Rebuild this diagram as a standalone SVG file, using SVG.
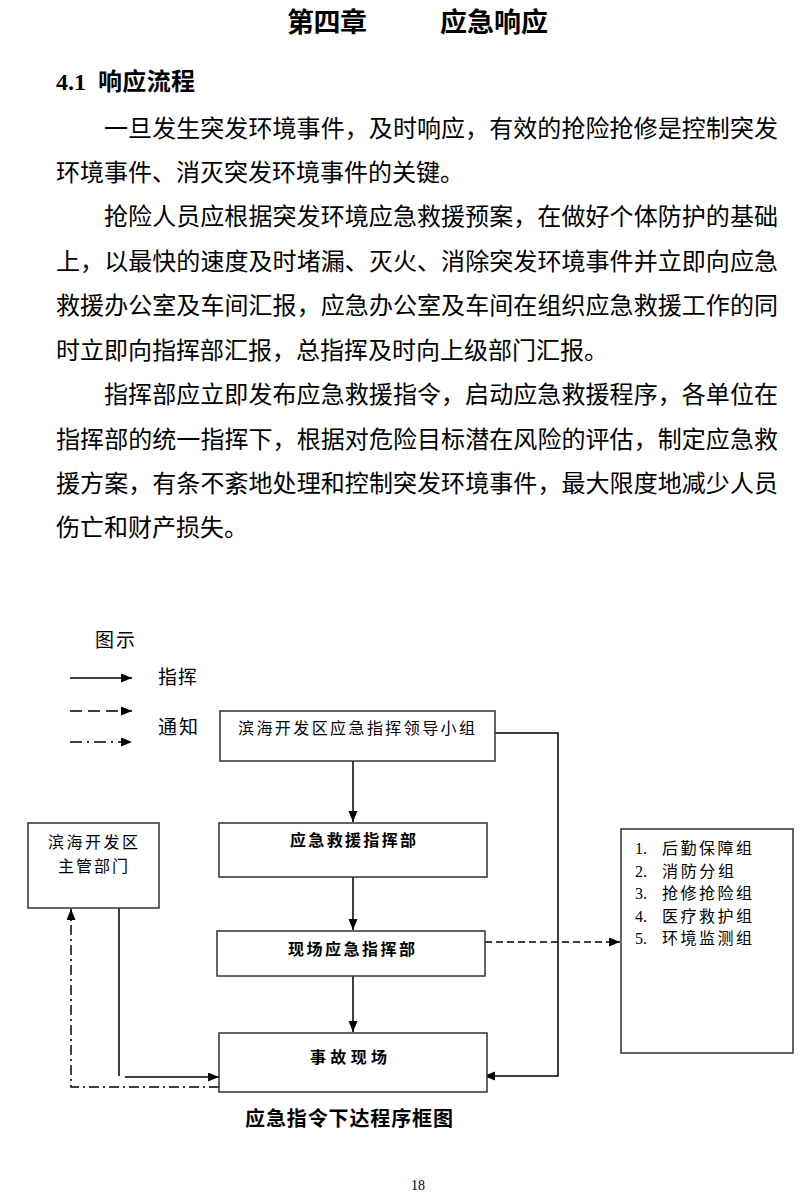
<svg xmlns="http://www.w3.org/2000/svg" width="800" height="1198" viewBox="0 0 800 1198">
<style>
  .cjk { font-family: "Noto Sans CJK SC", "Liberation Sans", sans-serif; fill: #000; }
  .body { font-size: 24px; }
  .box { fill: #fff; stroke: #333; stroke-width: 1.5; }
  .ln { fill: none; stroke: #000; stroke-width: 1.5; }
  .dash { stroke-dasharray: 7 4; }
  .dashdot { stroke-dasharray: 10 4 2 4; }
  .ldash { stroke-dasharray: 12 6; }
  .ldashdot { stroke-dasharray: 12 5 2 5; }
  .bt { font-size: 16px; }
  .bb { font-size: 16px; font-weight: bold; }
  .it { font-size: 16px; }
  .num { font-family: "Liberation Serif", serif; font-size: 16px; fill: #000; }
</style>
<defs>
  <marker id="ah" markerUnits="userSpaceOnUse" markerWidth="12" markerHeight="10" refX="11" refY="4.5" orient="auto">
    <path d="M0,0 L11,4.5 L0,9 z" fill="#000"/>
  </marker>
</defs>

<!-- Document text -->
<g id="title">
  <text class="cjk" x="287" y="32" font-size="27" font-weight="bold" textLength="80">第四章</text>
  <text class="cjk" x="440" y="32" font-size="27" font-weight="bold" textLength="108">应急响应</text>
</g>
<g id="heading">
  <text x="56" y="90" font-family="Liberation Serif, serif" font-size="24" font-weight="bold">4.1</text>
  <text class="cjk" x="98" y="90" font-size="24" font-weight="bold" textLength="97">响应流程</text>
</g>
<g id="paragraphs" class="cjk body">
  <text x="104" y="137" textLength="674" lengthAdjust="spacing">一旦发生突发环境事件，及时响应，有效的抢险抢修是控制突发</text>
  <text x="56" y="181">环境事件、消灭突发环境事件的关键。</text>
  <text x="104" y="225" textLength="674" lengthAdjust="spacing">抢险人员应根据突发环境应急救援预案，在做好个体防护的基础</text>
  <text x="56" y="270" textLength="722" lengthAdjust="spacing">上，以最快的速度及时堵漏、灭火、消除突发环境事件并立即向应急</text>
  <text x="56" y="314" textLength="722" lengthAdjust="spacing">救援办公室及车间汇报，应急办公室及车间在组织应急救援工作的同</text>
  <text x="56" y="359">时立即向指挥部汇报，总指挥及时向上级部门汇报。</text>
  <text x="104" y="403" textLength="674" lengthAdjust="spacing">指挥部应立即发布应急救援指令，启动应急救援程序，各单位在</text>
  <text x="56" y="448" textLength="722" lengthAdjust="spacing">指挥部的统一指挥下，根据对危险目标潜在风险的评估，制定应急救</text>
  <text x="56" y="492" textLength="722" lengthAdjust="spacing">援方案，有条不紊地处理和控制突发环境事件，最大限度地减少人员</text>
  <text x="56" y="536">伤亡和财产损失。</text>
</g>

<!-- Legend -->
<g id="legend">
  <text class="cjk" x="95" y="647" font-size="19" textLength="40">图示</text>
  <line class="ln" x1="70" y1="678" x2="132" y2="678" marker-end="url(#ah)"/>
  <text class="cjk" x="158" y="684" font-size="19" textLength="39">指挥</text>
  <line class="ln ldash" x1="70" y1="711" x2="132" y2="711" marker-end="url(#ah)"/>
  <text class="cjk" x="158" y="734" font-size="19" textLength="40">通知</text>
  <line class="ln ldashdot" x1="70" y1="742" x2="132" y2="742" marker-end="url(#ah)"/>
</g>

<!-- Connectors -->
<g id="connectors">
  <line class="ln" x1="353" y1="761" x2="353" y2="822" marker-end="url(#ah)"/>
  <line class="ln" x1="353" y1="877" x2="353" y2="930" marker-end="url(#ah)"/>
  <line class="ln" x1="353" y1="976" x2="353" y2="1032" marker-end="url(#ah)"/>
  <polyline class="ln" points="495,733 558,733 558,1076 484,1076" marker-end="url(#ah)"/>
  <line class="ln dash" x1="485" y1="942" x2="620" y2="942" marker-end="url(#ah)"/>
  <line class="ln" x1="119" y1="908" x2="119" y2="1076"/>
  <line class="ln" x1="125" y1="1077" x2="219" y2="1077" marker-end="url(#ah)"/>
  <polyline class="ln dashdot" points="219,1087 71,1087 71,909" marker-end="url(#ah)"/>
</g>

<!-- Nodes -->
<g id="node-leader">
  <rect class="box" x="220" y="711" width="275" height="50"/>
  <text class="cjk bt" x="238" y="734" textLength="237" lengthAdjust="spacing">滨海开发区应急指挥领导小组</text>
</g>
<g id="node-hq">
  <rect class="box" x="219" y="823" width="268" height="54"/>
  <text class="cjk bb" x="290" y="846" textLength="126" lengthAdjust="spacing">应急救援指挥部</text>
</g>
<g id="node-site-hq">
  <rect class="box" x="217" y="931" width="268" height="45"/>
  <text class="cjk bb" x="288" y="955" textLength="127" lengthAdjust="spacing">现场应急指挥部</text>
</g>
<g id="node-scene">
  <rect class="box" x="219" y="1033" width="268" height="59"/>
  <text class="cjk bb" x="310" y="1063" textLength="77" lengthAdjust="spacing">事故现场</text>
</g>
<g id="node-dept">
  <rect class="box" x="28" y="823" width="131" height="85"/>
  <text class="cjk bt" x="48" y="848" textLength="90" lengthAdjust="spacing">滨海开发区</text>
  <text class="cjk bt" x="58" y="872" textLength="70" lengthAdjust="spacing">主管部门</text>
</g>
<g id="node-groups">
  <rect class="box" x="621" y="829" width="172" height="224"/>
  <text class="num" x="635" y="854">1.</text>
  <text class="cjk it" x="662" y="854" textLength="90" lengthAdjust="spacing">后勤保障组</text>
  <text class="num" x="635" y="876.5">2.</text>
  <text class="cjk it" x="662" y="876.5" textLength="72" lengthAdjust="spacing">消防分组</text>
  <text class="num" x="635" y="899">3.</text>
  <text class="cjk it" x="662" y="899" textLength="90" lengthAdjust="spacing">抢修抢险组</text>
  <text class="num" x="635" y="921.5">4.</text>
  <text class="cjk it" x="662" y="921.5" textLength="90" lengthAdjust="spacing">医疗救护组</text>
  <text class="num" x="635" y="944">5.</text>
  <text class="cjk it" x="662" y="944" textLength="90" lengthAdjust="spacing">环境监测组</text>
</g>

<!-- Caption and page number -->
<g id="caption">
  <text class="cjk" x="245" y="1126" font-size="20" font-weight="bold" textLength="208" lengthAdjust="spacing">应急指令下达程序框图</text>
</g>
<g id="page-number">
  <text x="418" y="1190" font-family="Liberation Serif, serif" font-size="14" text-anchor="middle" fill="#000">18</text>
</g>
</svg>
